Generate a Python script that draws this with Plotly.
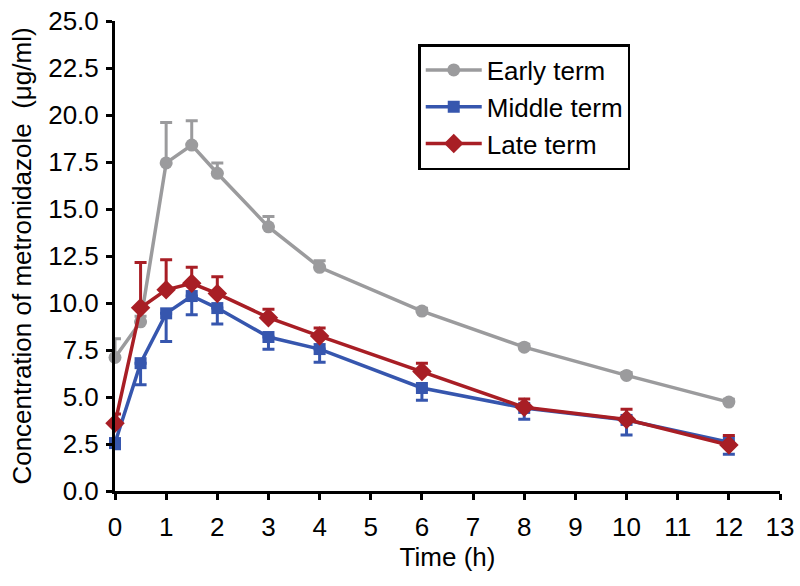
import plotly.graph_objects as go

time_h = [0, 0.5, 1, 1.5, 2, 3, 4, 6, 8, 10, 12]

early = [7.1, 9.0, 17.45, 18.4, 16.9, 14.05, 11.9, 9.57, 7.65, 6.15, 4.73]
early_err = [1.0, 0.3, 2.15, 1.3, 0.55, 0.55, 0.35, 0.15, 0.15, 0.15, 0.15]

middle = [2.55, 6.8, 9.45, 10.37, 9.73, 8.19, 7.55, 5.48, 4.42, 3.78, 2.6]
middle_err = [0.3, 1.15, 1.5, 1.0, 0.85, 0.65, 0.7, 0.65, 0.6, 0.8, 0.65]

late = [3.6, 9.75, 10.7, 11.05, 10.5, 9.22, 8.24, 6.35, 4.45, 3.8, 2.45]
late_err = [0.5, 2.4, 1.6, 0.85, 0.9, 0.45, 0.43, 0.45, 0.45, 0.55, 0.5]

y_ticks = [0, 2.5, 5, 7.5, 10, 12.5, 15, 17.5, 20, 22.5, 25]
x_ticks = list(range(0, 14))

GRAY = "#9B9B9D"
BLUE = "#3656AE"
RED = "#A81E25"

fig = go.Figure()

def add(name, y, err, color, symbol, size, upper=True):
    if upper:
        ed = dict(type="data", symmetric=False, array=err, arrayminus=[0]*len(err),
                  color=color, thickness=3, width=6)
    else:
        ed = dict(type="data", symmetric=False, array=[0]*len(err), arrayminus=err,
                  color=color, thickness=3, width=6)
    fig.add_trace(go.Scatter(
        x=time_h, y=y, name=name, mode="lines+markers",
        line=dict(color=color, width=3.5),
        marker=dict(color=color, symbol=symbol, size=size),
        error_y=ed, cliponaxis=False,
    ))

add("Early term", early, early_err, GRAY, "circle", 13, True)
add("Middle term", middle, middle_err, BLUE, "square", 12, False)
add("Late term", late, late_err, RED, "diamond", 15, True)

font_family = "Liberation Sans, Arial, sans-serif"

fig.update_layout(
    width=800, height=586,
    paper_bgcolor="white", plot_bgcolor="white",
    margin=dict(l=115, r=20, t=21, b=95),
    font=dict(family=font_family, size=26, color="black"),
    showlegend=True,
    legend=dict(
        x=0.456, y=0.951, xanchor="left", yanchor="top",
        bordercolor="black", borderwidth=2.5, bgcolor="white",
        font=dict(size=26), itemwidth=56, tracegroupgap=0,
    ),
    xaxis=dict(
        range=[0, 13], tickvals=x_ticks, ticktext=[str(t) for t in x_ticks],
        showline=True, linecolor="black", linewidth=3,
        ticks="outside", ticklen=6, tickwidth=3, tickcolor="black",
        showgrid=False, zeroline=False, automargin=False,
        ticklabelstandoff=5, ticklabeloverflow="allow",
        title=dict(text="Time (h)", standoff=7, font=dict(size=26)),
        tickfont=dict(size=26),
    ),
    yaxis=dict(
        range=[0, 25], tickvals=y_ticks, ticktext=[f"{v:.1f}" for v in y_ticks],
        showline=True, linecolor="black", linewidth=3,
        ticks="outside", ticklen=6, tickwidth=3, tickcolor="black",
        showgrid=False, zeroline=False, automargin=False,
        ticklabeloverflow="allow", ticklabelstandoff=2,
        title=dict(text="Concentration of metronidazole  (μg/ml)", standoff=10, font=dict(size=26)),
        tickfont=dict(size=26),
    ),
)

fig.write_html(
    "out.html",
    config={"displayModeBar": False},
    post_script="document.body.style.margin='0';document.body.style.padding='0';",
)
